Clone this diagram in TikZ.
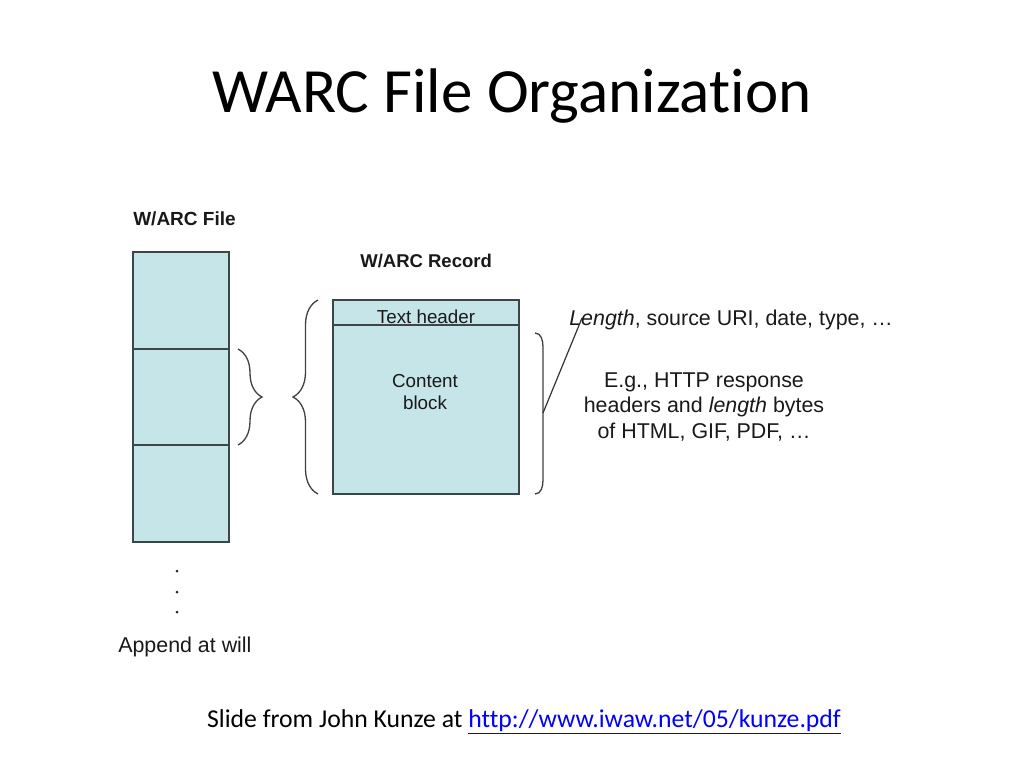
\documentclass[tikz,border=0pt]{standalone}
\usepackage{fontspec}
\setmainfont{Carlito}[Ligatures=NoCommon]
\newfontfamily\arialfont{Liberation Sans}
\usetikzlibrary{positioning, decorations.pathreplacing}

\definecolor{blockfill}{HTML}{C6E5E8}
\definecolor{blockline}{HTML}{3C4646}
\definecolor{linkblue}{HTML}{0000FF}

\begin{document}
\begin{tikzpicture}[
            x = 1pt, y = -1pt, % pixel grid of the slide
            semithick,
        ]

        \tikzstyle{blk}=[
            draw = blockline,
            fill = blockfill,
            line width = 1.4pt,
            outer sep = 0pt,
            inner sep = 0pt,
            minimum width = 96pt
        ]
        \tikzstyle{lbl}=[
            font = \arialfont\fontsize{21.4}{25.5}\selectfont,
            inner sep = 0pt,
            text = black!90
        ]
        \tikzstyle{brc}=[
            draw = black!75,
            line width = 1.3pt,
            decorate
        ]

        \useasboundingbox (0,0) rectangle (1024,768);

        % title and footer
        \node (title) at (512,96) {\fontsize{63}{70}\selectfont WARC File Organization};
        \node (foot) at (524,722) {\fontsize{25.7}{30}\selectfont Slide from John Kunze at
            {\color{linkblue}\underline{http://www.iwaw.net/05/kunze.pdf}}};

        % file column
        \node[lbl, anchor=west, font=\arialfont\bfseries\fontsize{19}{22}\selectfont] (fname) at (133,219) {W/ARC File};
        \node[blk, minimum height=97pt, anchor=north west] (f1) at (133,252) {};
        \node[blk, minimum height=96pt, below=0pt of f1] (f2) {};
        \node[blk, minimum height=97pt, below=0pt of f2] (f3) {};
        \foreach \y in {571,592,612}
            \fill[black!85] (177,\y) circle (1.5pt);
        \node[lbl, anchor=west] (app) at (118,647) {Append at will};

        % record
        \node[lbl, anchor=west, font=\arialfont\bfseries\fontsize{18.5}{22}\selectfont] (rname) at (360,261) {W/ARC Record};
        \node[blk, minimum width=186pt, minimum height=25pt, anchor=north west] (hdr) at (333,300) {};
        \node[blk, minimum width=186pt, minimum height=169pt, below=0pt of hdr] (cnt) {};
        \node[lbl, font=\arialfont\fontsize{18.8}{22}\selectfont] (htxt) at (426,317) {Text header};
        \node[lbl, align=center, font=\arialfont\fontsize{18.8}{22}\selectfont] (ctxt) at (425,392) {Content\\block};

        % braces
        \coordinate (sb1) at ([xshift=9pt]f2.north east);
        \coordinate (sb2) at ([xshift=9pt]f2.south east);
        \coordinate (bb1) at ([xshift=-15pt]cnt.south west);
        \coordinate (bb2) at ([xshift=-15pt]hdr.north west);
        \draw[brc, decoration={brace, amplitude=24pt}] (sb1) -- (sb2);
        \draw[brc, decoration={brace, amplitude=25pt}] (bb1) -- (bb2);
        \coordinate (rt) at (535,333);
        \coordinate (rb) at (535,494);
        \coordinate (rm) at (543,413);
        \draw[draw=black!75, line width=1.3pt] (rt) to[out=0, in=90] (543,347) -- (543,480) to[out=-90, in=0] (rb);

        % notes
        \node[lbl, anchor=west] (len) at (569,320) {\itshape Length\upshape, source URI, date, type, …};
        \coordinate (lenpt) at (582,318);
        \draw[draw=black!80, line width=1.2pt] (rm) -- (lenpt);
        \node[lbl, align=center] (eg) at (704,407) {E.g., HTTP response\\headers and \itshape length\upshape{} bytes\\of HTML, GIF, PDF, …};
    \end{tikzpicture}
\end{document}
